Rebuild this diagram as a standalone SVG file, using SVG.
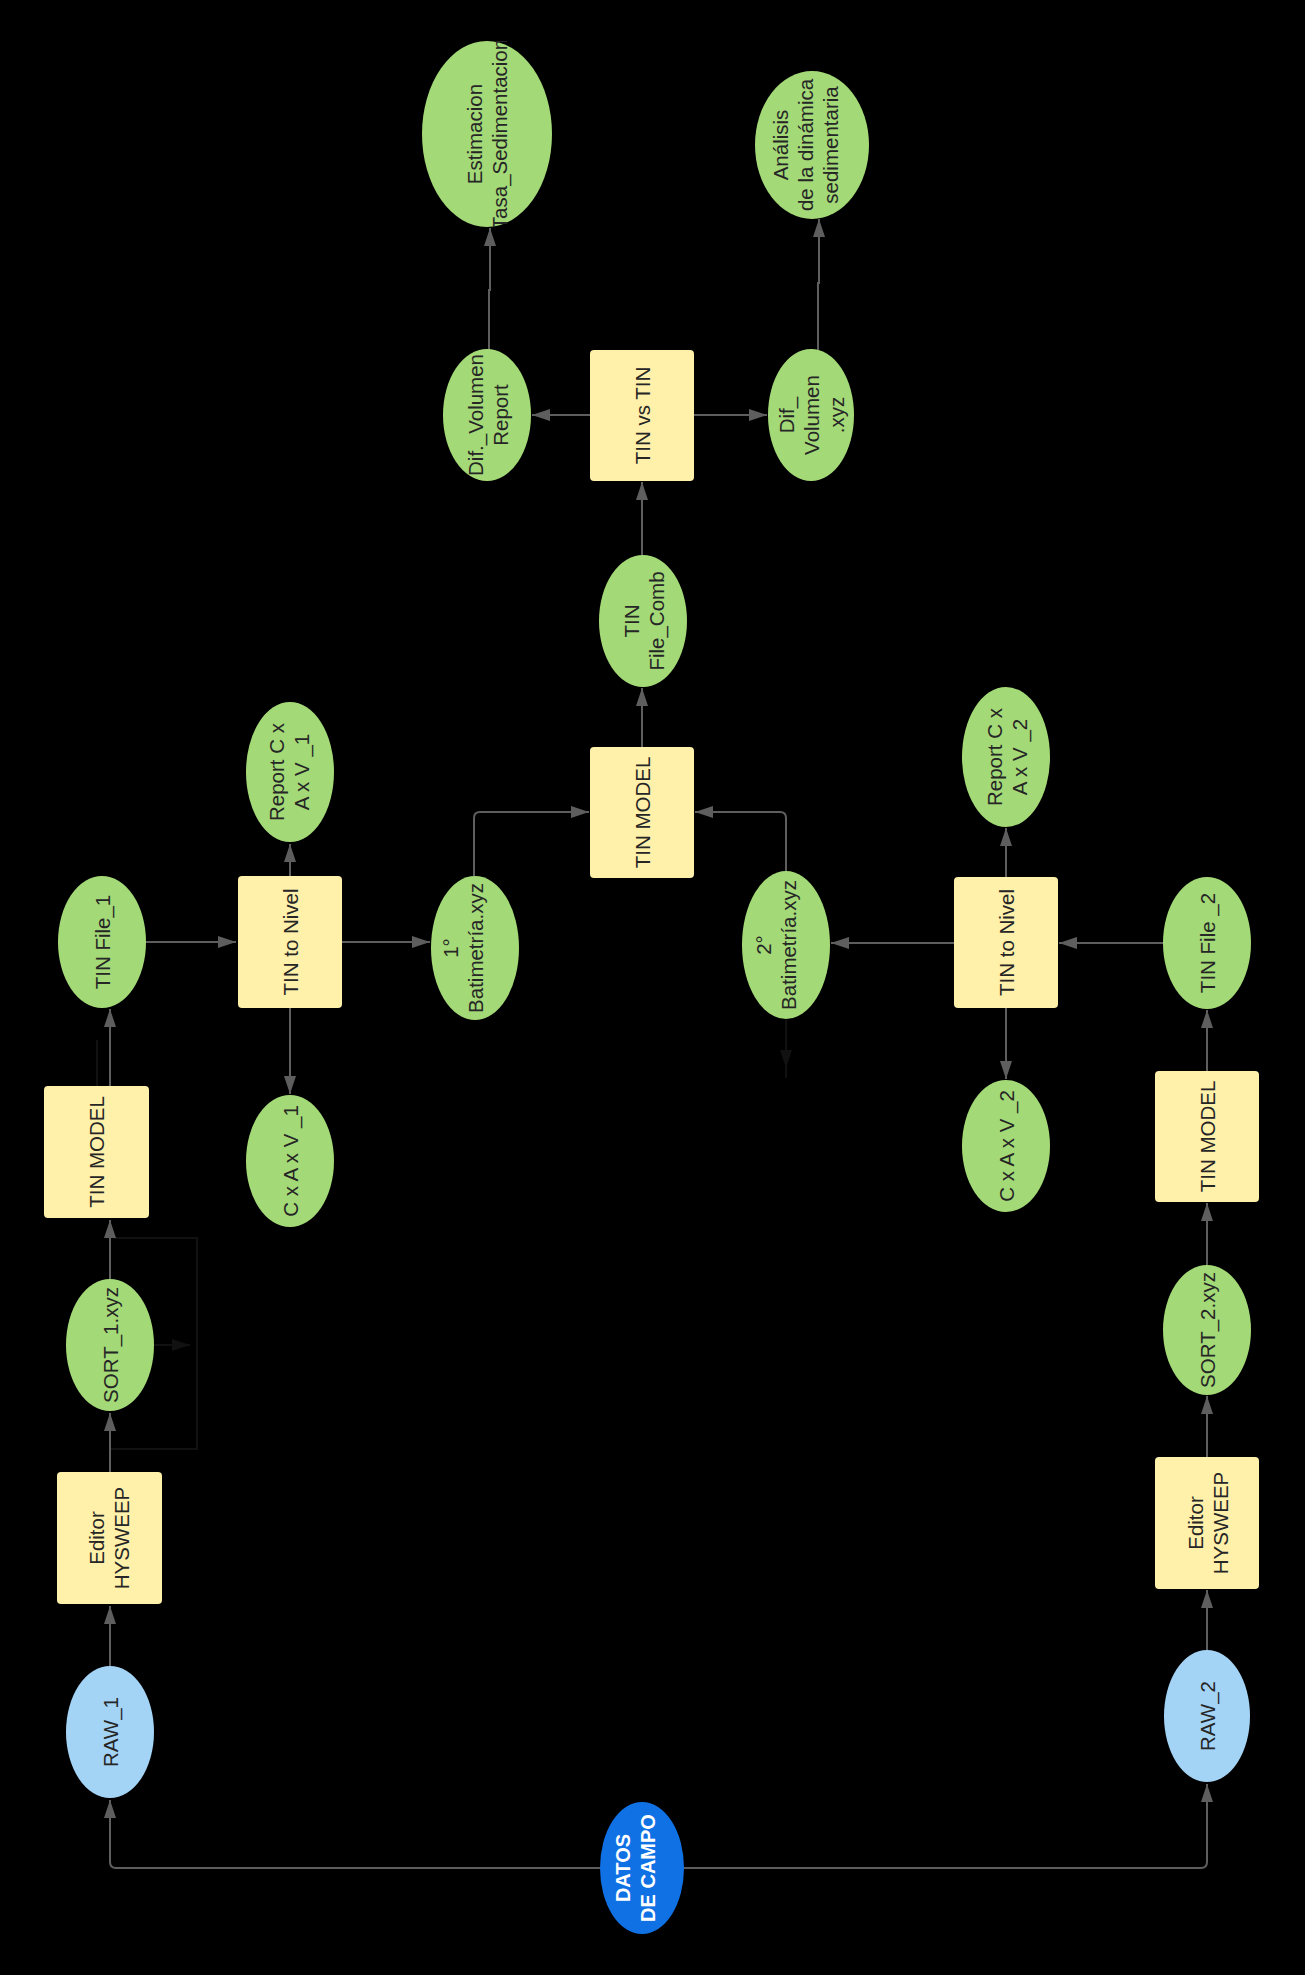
<svg xmlns="http://www.w3.org/2000/svg" width="1305" height="1975" viewBox="0 0 1305 1975">
<style>
.bg{fill:#000}
.box{fill:#FFF0AA}
.grn{fill:#A3D977}
.lb{fill:#A3D3F5}
.db{fill:#1071E5}
text{font-family:"Liberation Sans",Arial,sans-serif;font-size:20.5px;fill:#262626;text-anchor:middle;dominant-baseline:central}
text.w{fill:#fff;font-weight:bold;font-size:20px}
.c{fill:none;stroke:#5E5E5E;stroke-width:2}
.f{fill:none;stroke:#111;stroke-width:2}
</style>
<defs>
<marker id="a" markerUnits="userSpaceOnUse" markerWidth="18" markerHeight="12" refX="18" refY="6" orient="auto">
<path d="M0,0 L18,6 L0,12 z" fill="#5E5E5E"/>
</marker>
<marker id="af" markerUnits="userSpaceOnUse" markerWidth="18" markerHeight="12" refX="18" refY="6" orient="auto">
<path d="M0,0 L18,6 L0,12 z" fill="#111"/>
</marker>
<clipPath id="clipEst"><rect x="421" y="41" width="131" height="186"/></clipPath>
</defs>
<rect class="bg" x="0" y="0" width="1305" height="1975"/>

<g id="faint">
<path class="f" d="M110 1449 H197 V1238 H114"/>
<path class="f" d="M154 1345 H190" marker-end="url(#af)"/>
<path class="f" d="M97 1086 V1040"/>
<path class="f" d="M786 1020 V1078"/>
<path class="f" d="M786 1040 V1068" marker-end="url(#af)"/>
</g>

<g id="connectors">
<path class="c" d="M600 1868 H116 Q110 1868 110 1862 V1800" marker-end="url(#a)"/>
<path class="c" d="M684 1868 H1201 Q1207 1868 1207 1862 V1784" marker-end="url(#a)"/>
<path class="c" d="M110 1666 V1606" marker-end="url(#a)"/>
<path class="c" d="M110 1472 V1413" marker-end="url(#a)"/>
<path class="c" d="M110 1279 V1220" marker-end="url(#a)"/>
<path class="c" d="M110 1086 V1009" marker-end="url(#a)"/>
<path class="c" d="M146 942 H236" marker-end="url(#a)"/>
<path class="c" d="M290 1008 V1094" marker-end="url(#a)"/>
<path class="c" d="M290 876 V844" marker-end="url(#a)"/>
<path class="c" d="M342 942 H430" marker-end="url(#a)"/>
<path class="c" d="M474 876 V818 Q474 812 480 812 H589" marker-end="url(#a)"/>
<path class="c" d="M786 871 V818 Q786 812 780 812 H695" marker-end="url(#a)"/>
<path class="c" d="M954 943 H831" marker-end="url(#a)"/>
<path class="c" d="M1163 943 H1059" marker-end="url(#a)"/>
<path class="c" d="M1006 1008 V1079" marker-end="url(#a)"/>
<path class="c" d="M1006 877 V828" marker-end="url(#a)"/>
<path class="c" d="M1207 1071 V1010" marker-end="url(#a)"/>
<path class="c" d="M1207 1265 V1203" marker-end="url(#a)"/>
<path class="c" d="M1207 1457 V1396" marker-end="url(#a)"/>
<path class="c" d="M1207 1650 V1590" marker-end="url(#a)"/>
<path class="c" d="M642 747 V688" marker-end="url(#a)"/>
<path class="c" d="M642 555 V482" marker-end="url(#a)"/>
<path class="c" d="M590 415 H532" marker-end="url(#a)"/>
<path class="c" d="M694 415 H767" marker-end="url(#a)"/>
<path class="c" d="M489 350 V290 H490 V228" marker-end="url(#a)"/>
<path class="c" d="M818 350 V283 H819 V219" marker-end="url(#a)"/>
</g>

<g id="datos">
<ellipse class="db" cx="642" cy="1868" rx="42" ry="66"/>
<text class="w" transform="translate(635 1868) rotate(-90)"><tspan x="0" y="-12.5">DATOS</tspan><tspan x="0" y="12.5">DE CAMPO</tspan></text>
</g>
<g id="raw1">
<ellipse class="lb" cx="110" cy="1732" rx="44" ry="66"/>
<text transform="translate(110 1732) rotate(-90)">RAW_1</text>
</g>
<g id="raw2">
<ellipse class="lb" cx="1207" cy="1716" rx="43" ry="66"/>
<text transform="translate(1207 1716) rotate(-90)">RAW_2</text>
</g>
<g id="editor1">
<rect class="box" x="57" y="1472" width="105" height="132" rx="4"/>
<text transform="translate(108 1538) rotate(-90)"><tspan x="0" y="-12.5">Editor</tspan><tspan x="0" y="12.5">HYSWEEP</tspan></text>
</g>
<g id="editor2">
<rect class="box" x="1155" y="1457" width="104" height="132" rx="4"/>
<text transform="translate(1207 1523) rotate(-90)"><tspan x="0" y="-12.5">Editor</tspan><tspan x="0" y="12.5">HYSWEEP</tspan></text>
</g>
<g id="sort1">
<ellipse class="grn" cx="110" cy="1345" rx="44" ry="66"/>
<text transform="translate(110 1345) rotate(-90)">SORT_1.xyz</text>
</g>
<g id="sort2">
<ellipse class="grn" cx="1207" cy="1330" rx="44" ry="65"/>
<text transform="translate(1207 1330) rotate(-90)">SORT_2.xyz</text>
</g>
<g id="tinmodel1">
<rect class="box" x="44" y="1086" width="105" height="132" rx="4"/>
<text transform="translate(96.5 1152) rotate(-90)">TIN MODEL</text>
</g>
<g id="tinmodel2">
<rect class="box" x="1155" y="1071" width="104" height="131" rx="4"/>
<text transform="translate(1207 1136.5) rotate(-90)">TIN MODEL</text>
</g>
<g id="tinfile1">
<ellipse class="grn" cx="102" cy="942" rx="44" ry="66"/>
<text transform="translate(102 942) rotate(-90)">TIN File_1</text>
</g>
<g id="tinfile2">
<ellipse class="grn" cx="1207" cy="943" rx="44" ry="66"/>
<text transform="translate(1207 943) rotate(-90)">TIN File _2</text>
</g>
<g id="tintonivel1">
<rect class="box" x="238" y="876" width="104" height="132" rx="4"/>
<text transform="translate(290 942) rotate(-90)">TIN to Nivel</text>
</g>
<g id="tintonivel2">
<rect class="box" x="954" y="877" width="104" height="131" rx="4"/>
<text transform="translate(1006 942.5) rotate(-90)">TIN to Nivel</text>
</g>
<g id="cxaxv1">
<ellipse class="grn" cx="290" cy="1161" rx="44" ry="66"/>
<text transform="translate(290 1161) rotate(-90)">C x A x V _1</text>
</g>
<g id="cxaxv2">
<ellipse class="grn" cx="1006" cy="1146" rx="44" ry="66"/>
<text transform="translate(1006 1146) rotate(-90)">C x A x V _2</text>
</g>
<g id="report1">
<ellipse class="grn" cx="290" cy="772" rx="44" ry="70"/>
<text transform="translate(288 772) rotate(-90)"><tspan x="0" y="-12.5">Report C x</tspan><tspan x="0" y="12.5">A x V _1</tspan></text>
</g>
<g id="report2">
<ellipse class="grn" cx="1006" cy="757" rx="44" ry="70"/>
<text transform="translate(1006 757) rotate(-90)"><tspan x="0" y="-12.5">Report C x</tspan><tspan x="0" y="12.5">A x V _2</tspan></text>
</g>
<g id="bat1">
<ellipse class="grn" cx="475" cy="948" rx="44" ry="72"/>
<text transform="translate(462.5 948) rotate(-90)"><tspan x="0" y="-12.5">1°</tspan><tspan x="0" y="12.5">Batimetría.xyz</tspan></text>
</g>
<g id="bat2">
<ellipse class="grn" cx="786" cy="945" rx="44" ry="74"/>
<text transform="translate(775.5 945) rotate(-90)"><tspan x="0" y="-12.5">2°</tspan><tspan x="0" y="12.5">Batimetría.xyz</tspan></text>
</g>
<g id="tinmodelc">
<rect class="box" x="590" y="747" width="104" height="131" rx="4"/>
<text transform="translate(642 812.5) rotate(-90)">TIN MODEL</text>
</g>
<g id="tinfilecomb">
<ellipse class="grn" cx="643" cy="621" rx="44" ry="66"/>
<text transform="translate(643 621) rotate(-90)"><tspan x="0" y="-12.5">TIN</tspan><tspan x="0" y="12.5">File_Comb</tspan></text>
</g>
<g id="tinvstin">
<rect class="box" x="590" y="350" width="104" height="131" rx="4"/>
<text transform="translate(642 415.5) rotate(-90)">TIN vs TIN</text>
</g>
<g id="difreport">
<ellipse class="grn" cx="487" cy="415" rx="44" ry="66"/>
<text transform="translate(487 415) rotate(-90)"><tspan x="0" y="-12.5">Dif._Volumen</tspan><tspan x="0" y="12.5">Report</tspan></text>
</g>
<g id="difxyz">
<ellipse class="grn" cx="811" cy="415" rx="43" ry="66"/>
<text transform="translate(811 415) rotate(-90)"><tspan x="0" y="-25">Dif_</tspan><tspan x="0" y="0">Volumen</tspan><tspan x="0" y="25">.xyz</tspan></text>
</g>
<g id="estimacion">
<ellipse class="grn" cx="487" cy="134" rx="65" ry="93"/>
<g clip-path="url(#clipEst)">
<text transform="translate(486 134) rotate(-90)"><tspan x="0" y="-12.5">Estimacion</tspan><tspan x="0" y="12.5">Tasa_Sedimentacion</tspan></text>
</g>
</g>
<g id="analisis">
<ellipse class="grn" cx="812" cy="145" rx="57" ry="74"/>
<text transform="translate(805 145) rotate(-90)"><tspan x="0" y="-25">Análisis</tspan><tspan x="0" y="0">de la dinámica</tspan><tspan x="0" y="25">sedimentaria</tspan></text>
</g>
</svg>
